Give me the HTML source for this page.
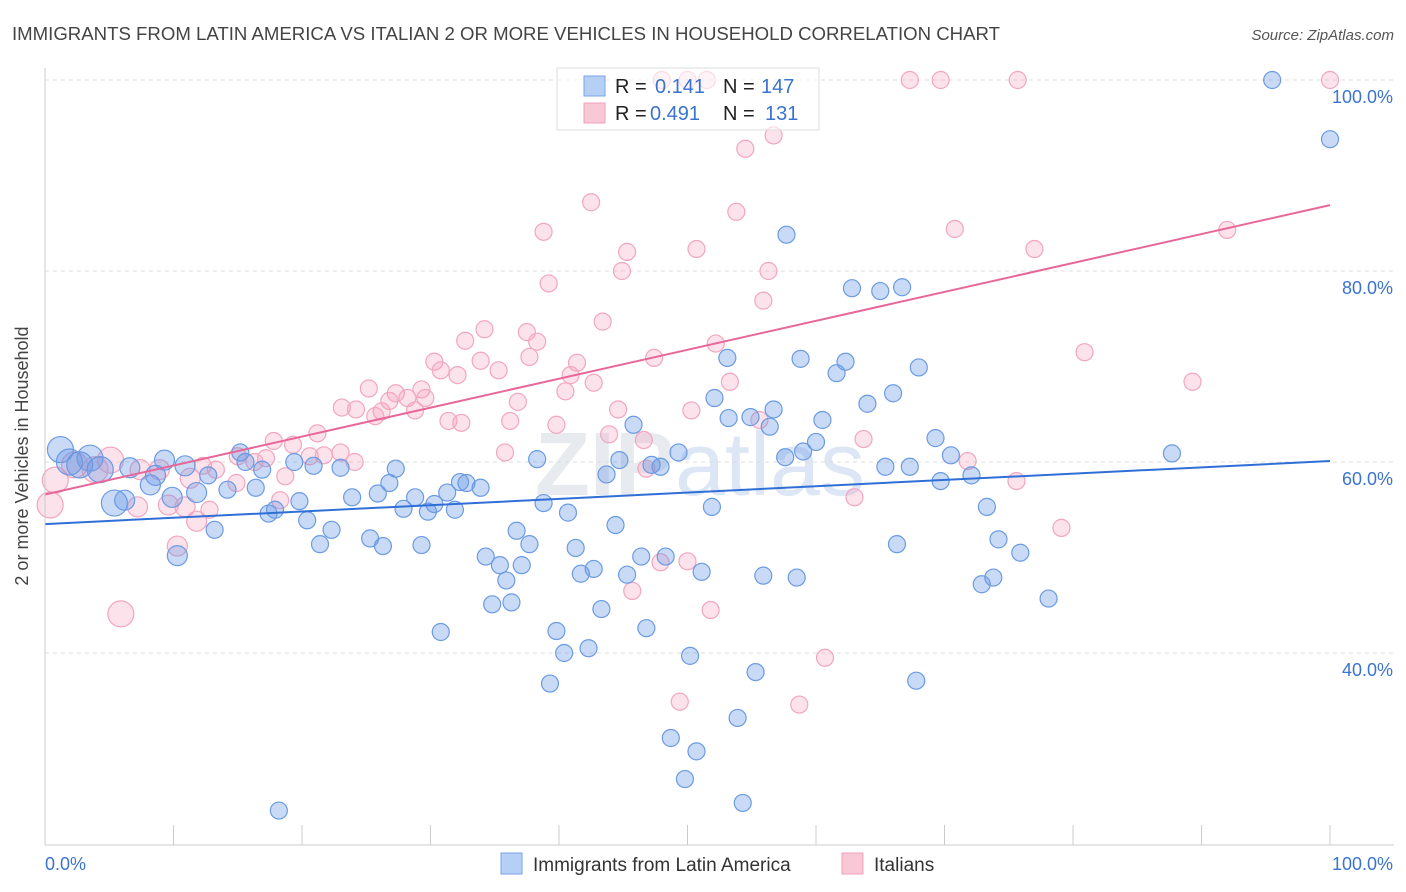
<!DOCTYPE html>
<html><head><meta charset="utf-8"><style>
body{margin:0;background:#fff;font-family:"Liberation Sans",sans-serif;}
svg{display:block}
</style></head><body>
<svg id="chart" width="1406" height="892">
<text x="12" y="40" font-size="18" fill="#444" textLength="988" lengthAdjust="spacingAndGlyphs">IMMIGRANTS FROM LATIN AMERICA VS ITALIAN 2 OR MORE VEHICLES IN HOUSEHOLD CORRELATION CHART</text>
<text x="1394" y="40" font-size="15" fill="#555" font-style="italic" text-anchor="end">Source: ZipAtlas.com</text>
<text x="28" y="456" font-size="18" fill="#444" text-anchor="middle" transform="rotate(-90 28 456)">2 or more Vehicles in Household</text>
<text x="700" y="495" font-size="90" fill="#d8dde6" text-anchor="middle" font-weight="bold" opacity="0.6">ZIP<tspan font-weight="normal" fill="#c6d6ee">atlas</tspan></text>
<g id="grid"></g><g id="pts"></g><g id="trends"></g><g id="axes"></g>
<g>
<rect x="557" y="68" width="262" height="62" fill="#fff" fill-opacity="0.6" stroke="#ddd"/>
<rect x="584" y="76" width="21" height="20" fill="#b5cff5" stroke="#7aa6e8"/>
<text x="615" y="93" font-size="20" fill="#222">R = <tspan x="655" fill="#3b73d1">0.141</tspan><tspan x="723" fill="#222">N = </tspan><tspan x="761" fill="#3b73d1">147</tspan></text>
<rect x="584" y="103" width="21" height="20" fill="#f8c8d6" stroke="#f0a0bb"/>
<text x="615" y="120" font-size="20" fill="#222">R = <tspan x="650" fill="#3b73d1">0.491</tspan><tspan x="723" fill="#222">N = </tspan><tspan x="765" fill="#3b73d1">131</tspan></text>
</g>
<g>
<rect x="501" y="853" width="21" height="21" fill="#b5cff5" stroke="#7aa6e8"/>
<text x="533" y="871" font-size="19" fill="#333">Immigrants from Latin America</text>
<rect x="842" y="853" width="21" height="21" fill="#f8c8d6" stroke="#f0a0bb"/>
<text x="874" y="871" font-size="19" fill="#333">Italians</text>
</g>
</svg>
<script>
const yTicks=[40,60,80,100];
const yTickLabels=["40.0%","60.0%","80.0%","100.0%"];
const xTickVals=[0,10,20,30,40,50,60,70,80,90,100];
const blueX=[95.5,100,57.7,62.8,65.0,66.7,53.1,58.8,62.3,61.6,68.0,66.0,64.0,52.1,56.7,54.9,53.2,60.5,56.4,45.8,69.3,60.0,59.0,57.6,70.5,87.7,49.3,47.2,47.9,44.7,43.7,65.4,67.3,69.7,72.1,38.3,73.3,74.2,75.9,66.3,73.8,72.9,78.1,51.9,44.4,40.7,38.8,36.7,37.7,41.3,46.4,48.3,34.3,35.4,37.1,35.9,41.7,42.7,45.3,51.1,55.9,58.5,34.8,36.3,43.3,39.8,46.8,40.4,42.3,50.2,39.3,55.3,67.8,53.9,48.7,50.7,49.8,54.3,18.2,30.8,10.3,13.2,21.4,26.3,29.3,25.3,22.3,20.4,17.4,17.9,19.8,23.9,25.9,27.9,29.8,31.9,28.8,30.3,31.3,33.9,32.8,32.3,26.8,27.3,23.0,20.9,19.4,16.9,15.6,15.2,14.2,16.4,11.8,9.9,8.2,8.6,6.6,5.4,6.2,10.9,9.3,12.7,4.3,2.7,1.2,1.9,3.5];
const blueY=[100,93.8,83.8,78.2,77.9,78.3,70.9,70.8,70.5,69.3,69.9,67.2,66.1,66.7,65.5,64.7,64.6,64.4,63.7,63.9,62.5,62.1,61.1,60.5,60.7,60.9,61.0,59.7,59.5,60.2,58.7,59.5,59.5,58.0,58.6,60.3,55.3,51.9,50.5,51.4,47.9,47.2,45.7,55.3,53.4,54.7,55.7,52.8,51.4,51.0,50.1,50.1,50.1,49.2,49.2,47.6,48.3,48.8,48.2,48.5,48.1,47.9,45.1,45.3,44.6,42.3,42.6,40.0,40.5,39.7,36.8,38.0,37.1,33.2,31.1,29.7,26.8,24.3,23.5,42.2,50.2,52.9,51.4,51.2,51.3,52.0,52.9,53.9,54.6,55.0,55.9,56.3,56.7,55.1,54.8,55.0,56.3,55.6,56.8,57.3,57.8,57.9,57.8,59.3,59.4,59.6,60.0,59.2,60.0,61.0,57.1,57.3,56.8,56.3,57.6,58.6,59.4,55.7,56.0,59.6,60.2,58.6,59.2,59.7,61.3,60.0,60.4];
const pinkX=[50.0,51.5,67.3,69.7,75.7,100,48.0,56.7,54.5,42.5,53.8,38.8,70.8,45.3,50.7,77.0,92.0,44.9,56.3,39.2,55.9,43.4,34.2,37.5,32.7,38.3,52.2,80.9,47.4,37.7,30.3,41.4,33.9,30.8,35.3,40.9,32.1,53.3,42.7,89.3,25.2,29.3,27.3,40.5,28.2,29.6,26.8,36.8,23.1,24.2,26.2,28.8,25.7,44.6,50.3,31.4,32.4,36.2,39.8,55.6,43.9,21.2,17.8,19.3,46.6,63.7,35.8,23.0,21.7,20.6,24.1,17.2,15.0,16.3,13.3,12.3,71.8,46.8,18.7,14.9,75.6,11.3,18.3,63.0,9.6,10.9,12.8,11.8,7.2,79.1,10.3,47.9,50.0,45.7,51.8,5.9,60.7,49.4,58.7,0.4,0.8,2.3,3.9,5.1,7.4,8.9];
const pinkY=[100,100,100,100,100,100,100,94.2,92.8,87.2,86.2,84.1,84.4,82.0,82.3,82.3,84.3,80.0,80.0,78.7,76.9,74.7,73.9,73.6,72.7,72.6,72.4,71.5,70.9,71.0,70.5,70.4,70.6,69.6,69.6,69.1,69.1,68.4,68.3,68.4,67.7,67.6,67.2,67.4,66.7,66.7,66.4,66.3,65.7,65.5,65.3,65.4,64.8,65.5,65.4,64.3,64.1,64.3,63.9,64.4,62.9,63.0,62.2,61.8,62.3,62.4,61.0,61.0,60.7,60.6,60.0,60.4,60.6,60.0,59.2,59.6,60.1,59.3,58.5,57.8,58.0,58.3,56.0,56.3,55.5,55.3,55.0,53.8,55.3,53.1,51.2,49.5,49.6,46.5,44.5,44.1,39.5,34.9,34.6,55.5,58.1,59.7,59.2,60.2,59.2,59.2];
const blueTrend=[53.5,60.1];
const pinkTrend=[56.6,86.9];
const NS="http://www.w3.org/2000/svg";
const X0=45,X1=1330,YT=80,YB=843;
function xs(v){return X0+(X1-X0)*v/100;}
function ys(v){return YT+(100-v)*9.55;}
function mk(tag,attrs,parent){const e=document.createElementNS(NS,tag);for(const k in attrs)e.setAttribute(k,attrs[k]);parent.appendChild(e);return e;}
const grid=document.getElementById('grid'),axes=document.getElementById('axes'),pts=document.getElementById('pts'),tr=document.getElementById('trends');
yTicks.forEach((t,i)=>{
 const l=mk('line',{x1:X0,x2:1394,y1:ys(t),y2:ys(t),stroke:'#dcdcdc','stroke-dasharray':'4,4'},grid);
 
 
 const tx=mk('text',{x:1393,y:ys(t)+23,'font-size':18,fill:'#3b73d1','text-anchor':'end'},axes);
 tx.textContent=yTickLabels[i];
 
 
});
const ax=mk('line',{x1:X0,x2:1394,y1:845,y2:845,stroke:'#ccc'},axes);


const ay=mk('line',{x1:X0,x2:X0,y1:68,y2:845,stroke:'#ccc'},axes);


xTickVals.forEach(t=>{
 const l=mk('line',{x1:xs(t),x2:xs(t),y1:825,y2:845,stroke:'#ccc'},axes);
 
 
});
[[0,'0.0%','start',45],[100,'100.0%','end',1393]].forEach(a=>{
 const t=mk('text',{x:a[3],y:870,'font-size':18,fill:'#3b73d1','text-anchor':a[2]},axes);
 t.textContent=a[1];
 
 
});
function drawPts(X,Y,fill,stroke,name){
 X.forEach((x,i)=>{
  const r=(x<6)?13:(x<12?10:8.5);
  const c=mk('circle',{cx:xs(x),cy:ys(Y[i]),r:r,fill:fill,stroke:stroke,'stroke-width':1.2},pts);
  
  
 });
}
drawPts(pinkX,pinkY,'rgba(244,160,188,0.3)','#f2a6bf','italians-point');
drawPts(blueX,blueY,'rgba(100,150,230,0.35)','#6b9be3','latin-america-point');
const bl=mk('line',{x1:xs(0),y1:ys(blueTrend[0]),x2:xs(100),y2:ys(blueTrend[1]),stroke:'#2f6fd6','stroke-width':2},tr);


const pl=mk('line',{x1:xs(0),y1:ys(pinkTrend[0]),x2:xs(100),y2:ys(pinkTrend[1]),stroke:'#e8679a','stroke-width':2},tr);


</script>
</body></html>
